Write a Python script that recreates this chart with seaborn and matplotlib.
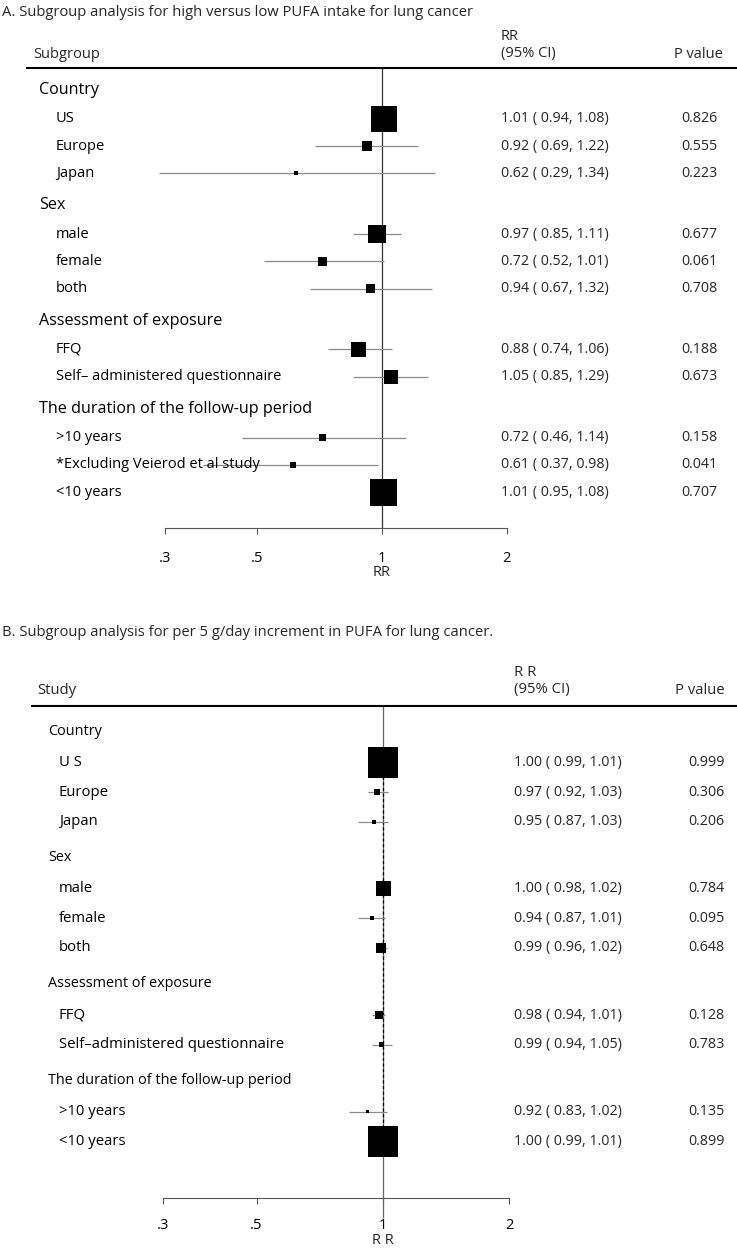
import numpy as np
import pandas as pd
import matplotlib
matplotlib.use("Agg")
import matplotlib.pyplot as plt
import matplotlib.transforms as mtrans
from matplotlib.ticker import FixedLocator, FixedFormatter, NullLocator
import seaborn as sns

sns.set_theme(style="white")
plt.rcParams['font.family'] = ['Open Sans', 'DejaVu Sans']

# ---------------- data: panel A ----------------
a_title = "A. Subgroup analysis for high versus low PUFA intake for lung cancer"
a_group = ["Country"] * 3 + ["Sex"] * 3 + ["Assessment of exposure"] * 2 + \
          ["The duration of the follow-up period"] * 3
a_sub = ["US", "Europe", "Japan", "male", "female", "both", "FFQ",
         "Self\u2013 administered questionnaire", ">10 years",
         "*Excluding Veierod et al study", "<10 years"]
a_rr = [1.01, 0.92, 0.62, 0.97, 0.72, 0.94, 0.88, 1.05, 0.72, 0.61, 1.01]
a_lo = [0.94, 0.69, 0.29, 0.85, 0.52, 0.67, 0.74, 0.85, 0.46, 0.37, 0.95]
a_hi = [1.08, 1.22, 1.34, 1.11, 1.01, 1.32, 1.06, 1.29, 1.14, 0.98, 1.08]
a_p = ["0.826", "0.555", "0.223", "0.677", "0.061", "0.708", "0.188", "0.673",
       "0.158", "0.041", "0.707"]
a_w = [67.6, 10.0, 1.6, 32.4, 8.1, 8.1, 22.5, 19.6, 4.9, 3.6, 72.9]
a_head = ["Subgroup", "RR", "(95% CI)", "P value"]
a_xlab = "RR"

# ---------------- data: panel B ----------------
b_title = "B. Subgroup analysis for per 5 g/day increment in PUFA for lung cancer."
b_group = ["Country"] * 3 + ["Sex"] * 3 + ["Assessment of exposure"] * 2 + \
          ["The duration of the follow-up period"] * 2
b_sub = ["U S", "Europe", "Japan", "male", "female", "both", "FFQ",
         "Self\u2013administered questionnaire", ">10 years", "<10 years"]
b_rr = [1.00, 0.97, 0.95, 1.00, 0.94, 0.99, 0.98, 0.99, 0.92, 1.00]
b_lo = [0.99, 0.92, 0.87, 0.98, 0.87, 0.96, 0.94, 0.94, 0.83, 0.99]
b_hi = [1.01, 1.03, 1.03, 1.02, 1.01, 1.02, 1.01, 1.05, 1.02, 1.01]
b_p = ["0.999", "0.306", "0.206", "0.784", "0.095", "0.648", "0.128", "0.783",
       "0.135", "0.899"]
b_w = [96.0, 3.6, 1.6, 22.5, 1.6, 10.0, 6.4, 2.5, 0.9, 96.0]
b_overall = 1.00
b_head = ["Study", "R R", "(95% CI)", "P value"]
b_xlab = "R R"

ticks = [0.3, 0.5, 1, 2]
tick_labels = [".3", ".5", "1", "2"]

# ---------------- figure ----------------
W, H, DPI = 737, 1251, 100
fig = plt.figure(figsize=(W / DPI, H / DPI), dpi=DPI)
PT = DPI / 72.0  # px per point


def fx(px):
    return px / W


def fy(py):
    return 1 - py / H


def layout(groups, after, before):
    heads, pos = [], []
    y, prev = 0.0, None
    for g in groups:
        if g != prev:
            if prev is not None:
                y += before
            heads.append((g, y))
            y += after
            prev = g
        else:
            y += 1
        pos.append(y)
    return heads, pos


def panel(cfg):
    heads, pos = layout(cfg["group"], cfg["after"], cfg["before"])
    y0, d = cfg["y0"], cfg["d"]
    top, bot, left = cfg["top"], cfg["bot"], cfg["left"]
    ax = fig.add_axes([fx(left), fy(bot), 1 - fx(left), (bot - top) / H])
    x1, sc = cfg["x1"], cfg["sc"]
    ax.set_xscale("log")
    ax.set_xlim(np.exp((left - x1) / sc), np.exp((W - x1) / sc))
    ax.set_ylim((bot - y0) / d, (top - y0) / d)

    df = pd.DataFrame({"rr": cfg["rr"], "lo": cfg["lo"], "hi": cfg["hi"],
                       "w": cfg["w"], "pos": pos})
    # reference line
    yext = (cfg["ref_end"] - y0) / d
    ax.vlines(1, (top - y0) / d, yext, color=cfg["refc"], lw=0.9, zorder=1,
              clip_on=False)
    if cfg.get("overall") is not None:
        ax.vlines(cfg["overall"], pos[0] - 0.5, pos[-1] + 0.5, color="black",
                  lw=0.9, linestyles=(0, (2.5, 2)), zorder=1.5)
    ax.hlines(df["pos"], df["lo"], df["hi"], color="#8a8a8a", lw=0.9, zorder=2)
    k = 10.0 / PT ** 2
    sns.scatterplot(data=df, x="rr", y="pos", size="w",
                    sizes=(k * df["w"].min(), k * df["w"].max()),
                    marker="s", color="black", linewidth=0, legend=False,
                    ax=ax, zorder=3)
    ax.set_xlabel("")
    ax.set_ylabel("")
    ax.yaxis.set_major_locator(NullLocator())
    ax.xaxis.set_major_locator(FixedLocator(ticks))
    ax.xaxis.set_major_formatter(FixedFormatter(tick_labels))
    ax.xaxis.set_minor_locator(NullLocator())
    ax.tick_params(axis="x", direction="out", length=6 / PT, width=0.8,
                   color="#555555", pad=cfg["pad"], labelsize=cfg["tkfs"],
                   labelcolor="black", bottom=True)
    for s in ["left", "right"]:
        ax.spines[s].set_visible(False)
    ax.spines["top"].set_color("black")
    ax.spines["top"].set_linewidth(1.5)
    ax.spines["bottom"].set_color("#555555")
    ax.spines["bottom"].set_linewidth(0.8)
    ax.spines["bottom"].set_bounds(ticks[0], ticks[-1])
    ax.set_facecolor("none")
    ax.grid(False)

    tr = mtrans.blended_transform_factory(fig.transFigure, ax.transData)
    for g, yy in heads:
        ax.text(fx(cfg["hx"]), yy, g, transform=tr, ha="left", va="center",
                fontsize=cfg["hfs"], color="black")
    for lab, yy, r, lo, hi, p in zip(cfg["sub"], pos, cfg["rr"], cfg["lo"],
                                     cfg["hi"], cfg["p"]):
        ax.text(fx(cfg["ix"]), yy, lab, transform=tr, ha="left", va="center",
                fontsize=cfg["ifs"], color="black")
        ax.text(fx(cfg["rx"]), yy, f"{r:.2f} ( {lo:.2f}, {hi:.2f})",
                transform=tr, ha="left", va="center", fontsize=cfg["vfs"])
        ax.text(fx(cfg["px"]), yy, p, transform=tr, ha="left", va="center",
                fontsize=cfg["vfs"])
    # titles and headers
    fig.text(fx(2), fy(cfg["ty"]), cfg["title"], ha="left", va="center",
             fontsize=cfg["tfs"])
    h = cfg["head"]
    fig.text(fx(cfg["sx"]), fy(cfg["hy"]), h[0], ha="left", va="center",
             fontsize=cfg["ifs"])
    fig.text(fx(cfg["rx"]), fy(cfg["hy"] - 17), h[1], ha="left", va="center",
             fontsize=cfg["ifs"])
    fig.text(fx(cfg["rx"]), fy(cfg["hy"]), h[2], ha="left", va="center",
             fontsize=cfg["ifs"])
    fig.text(fx(cfg["pr"]), fy(cfg["hy"]), h[3], ha="right", va="center",
             fontsize=cfg["ifs"])
    fig.text(fx(x1), fy(cfg["xly"]), cfg["xlab"], ha="center", va="center",
             fontsize=cfg["tkfs"])
    return ax


panel(dict(group=a_group, sub=a_sub, rr=a_rr, lo=a_lo, hi=a_hi, p=a_p, w=a_w,
           title=a_title, head=a_head, xlab=a_xlab,
           after=1.06, before=1.18, y0=90, d=27.2, top=68, bot=528, left=27,
           x1=382, sc=180.0, ref_end=528, refc="#333333", pad=17 / PT,
           hx=39, ix=56, rx=501, px=681, sx=33, pr=723, hy=54, ty=12,
           xly=572, hfs=11.6, ifs=10.5, vfs=10.3, tfs=10.6, tkfs=10.5))

panel(dict(group=b_group, sub=b_sub, rr=b_rr, lo=b_lo, hi=b_hi, p=b_p, w=b_w,
           title=b_title, head=b_head, xlab=b_xlab, overall=b_overall,
           after=1.07, before=1.21, y0=731, d=29.5, top=706, bot=1198, left=32,
           x1=383, sc=182.4, ref_end=1218, refc="#666666", pad=14 / PT,
           hx=48, ix=59, rx=514, px=688, sx=37, pr=725, hy=690, ty=633,
           xly=1241, hfs=10.4, ifs=10.7, vfs=10.3, tfs=10.6, tkfs=10.5))

fig.savefig("out.png", dpi=DPI, facecolor="white")
